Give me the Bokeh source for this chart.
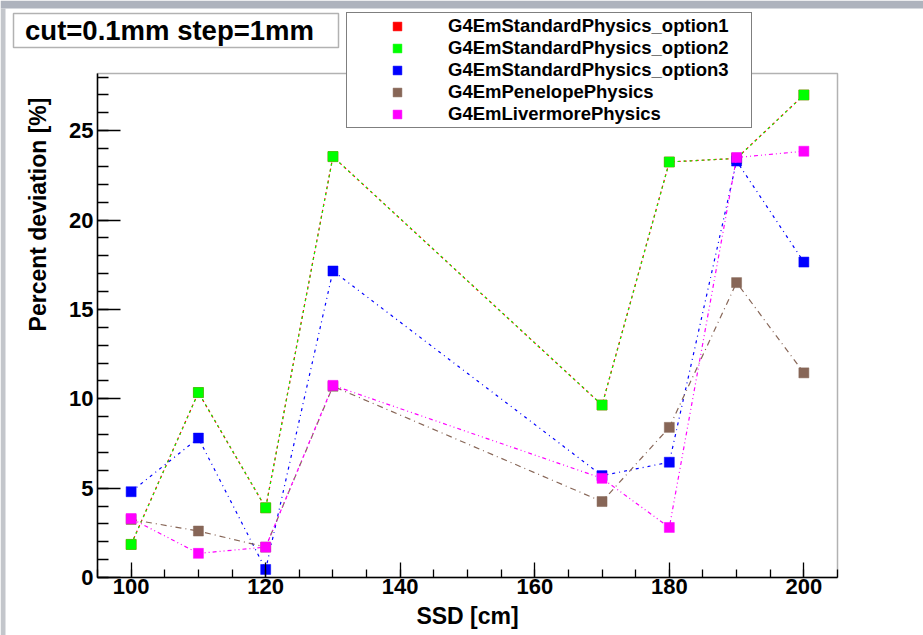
import math

from bokeh.embed import file_html
from bokeh.models import (BoxAnnotation, Label, Legend, LegendItem, Range1d,
                          SingleIntervalTicker)
from bokeh.plotting import figure
from bokeh.resources import INLINE

# Source-to-surface distance [cm]
ssd = [100, 110, 120, 130, 170, 180, 190, 200]

# Percent deviation [%] for each physics list
opt1 = [1.85, 10.35, 3.9, 23.55, 9.65, 23.25, 23.45, 27.0]
opt2 = [1.85, 10.35, 3.9, 23.55, 9.65, 23.25, 23.45, 27.0]
opt3 = [4.8, 7.8, 0.45, 17.15, 5.7, 6.45, 23.3, 17.65]
penelope = [3.25, 2.6, 1.7, 10.7, 4.25, 8.4, 16.5, 11.45]
livermore = [3.3, 1.35, 1.7, 10.75, 5.55, 2.8, 23.5, 23.85]

series_names = [
    "G4EmStandardPhysics_option1",
    "G4EmStandardPhysics_option2",
    "G4EmStandardPhysics_option3",
    "G4EmPenelopePhysics",
    "G4EmLivermorePhysics",
]
series_values = [opt1, opt2, opt3, penelope, livermore]
colors = ["#ff0000", "#00ff00", "#0000ff", "#876657", "#ff00ff"]
dashes = ["3 3", "2 4", "3 4 1 4", "6 4 1 4", "4 3 1 3 1 3"]

FONT = "Liberation Sans"

W, H = 923, 635
# pad (axis box) placement in canvas pixels
PAD_L, PAD_R, PAD_T, PAD_B = 97, 837, 73, 577
X_LO, X_HI = 95, 205
Y_LO, Y_HI = 0, 28.2

# extend the ranges so the axis box lands on the pad while the frame
# spans the whole canvas (text boxes and legend can then sit anywhere)
sx = (PAD_R - PAD_L) / (X_HI - X_LO)
sy = (PAD_B - PAD_T) / (Y_HI - Y_LO)
x0, x1 = X_LO - PAD_L / sx, X_HI + (W - PAD_R) / sx
y0, y1 = Y_LO - (H - PAD_B) / sy, Y_HI + PAD_T / sy

p = figure(
    width=W, height=H,
    output_backend="svg", toolbar_location=None,
    x_range=Range1d(x0, x1), y_range=Range1d(y0, y1),
    min_border=0,
    background_fill_color="white", border_fill_color="white",
)
p.grid.visible = False
p.outline_line_alpha = 0

# window backdrop strips along the top and left edges
p.add_layout(BoxAnnotation(left=x0, right=x1, top=y1, bottom=y1 - 8 / sy,
                           fill_color="#aeb3bd", fill_alpha=1, line_alpha=0,
                           level="underlay"))
p.add_layout(BoxAnnotation(left=x0, right=x0 + 5 / sx, top=y1 - 8 / sy, bottom=y0,
                           fill_color="#c3c6cb", fill_alpha=1, line_alpha=0,
                           level="underlay"))

# x axis pinned to y = 0
xa = p.xaxis[0]
xa.fixed_location = Y_LO
xa.bounds = (X_LO, X_HI)
xa.ticker = SingleIntervalTicker(interval=20, num_minor_ticks=4)
xa.major_tick_in = 15
xa.major_tick_out = 0
xa.minor_tick_in = 8
xa.minor_tick_out = 0
xa.major_label_standoff = 1

# y axis pinned to x = 95
ya = p.yaxis[0]
ya.fixed_location = X_LO
ya.bounds = (Y_LO, Y_HI)
ya.ticker = SingleIntervalTicker(interval=5, num_minor_ticks=5)
ya.major_tick_in = 23
ya.major_tick_out = 0
ya.minor_tick_in = 11
ya.minor_tick_out = 0
ya.major_label_standoff = 4

for ax in (xa, ya):
    ax.major_label_text_font = FONT
    ax.major_label_text_font_style = "bold"
    ax.major_label_text_font_size = "22px"
    ax.major_label_text_color = "black"
    ax.axis_line_color = "black"
    ax.axis_line_width = 1.5
    ax.major_tick_line_color = "black"
    ax.major_tick_line_width = 1.3
    ax.minor_tick_line_color = "black"
    ax.minor_tick_line_width = 1.3

# axis box
p.add_layout(BoxAnnotation(left=X_LO, right=X_HI, bottom=Y_LO, top=Y_HI,
                           fill_alpha=0, line_color="black", line_width=1.5,
                           level="underlay"))

# curves: dashed line plus square markers for each physics list
items = []
for name, vals, col, dash in zip(series_names, series_values, colors, dashes):
    p.line(ssd, vals, line_color=col, line_width=1.2, line_dash=dash)
    r = p.scatter(ssd, vals, marker="square", size=10,
                  fill_color=col, line_color=col, line_width=0.5)
    items.append(LegendItem(label=name, renderers=[r]))


def screen_box(left, right, top, bottom, **kw):
    """Box given in canvas pixels (y measured from the top)."""
    return BoxAnnotation(left=left, right=right, top=H - top, bottom=H - bottom,
                         left_units="screen", right_units="screen",
                         top_units="screen", bottom_units="screen", **kw)


# settings box
p.add_layout(screen_box(13, 338, 13, 47, fill_color="white", fill_alpha=1,
                        line_color="black", line_width=1.5))
p.add_layout(Label(x=169, y=H - 30, x_units="screen", y_units="screen",
                   text="cut=0.1mm step=1mm", text_align="center",
                   text_baseline="middle", text_font=FONT,
                   text_font_style="bold", text_font_size="27.5px",
                   text_color="black"))

# axis titles
p.add_layout(Label(x=37, y=H - 214, x_units="screen", y_units="screen",
                   text="Percent deviation [%]", angle=math.pi / 2,
                   text_align="center", text_baseline="middle",
                   text_font=FONT, text_font_style="bold",
                   text_font_size="23px", text_color="black"))
p.add_layout(Label(x=(PAD_L + PAD_R) / 2, y=H - 615, x_units="screen", y_units="screen",
                   text="SSD [cm]", text_align="center",
                   text_baseline="middle",
                   text_font=FONT, text_font_style="bold",
                   text_font_size="23px", text_color="black"))

legend = Legend(
    items=items, location=(346, H - 128), orientation="vertical",
    glyph_width=96, glyph_height=22, label_height=22, label_width=301,
    label_standoff=3, padding=2, spacing=0, margin=0,
    border_line_color="black", border_line_width=1.5,
    background_fill_color="white", background_fill_alpha=1,
    label_text_font=FONT, label_text_font_style="bold",
    label_text_font_size="18.5px", label_text_color="black",
)
p.add_layout(legend)

open("out.html", "w").write(file_html(p, INLINE))
